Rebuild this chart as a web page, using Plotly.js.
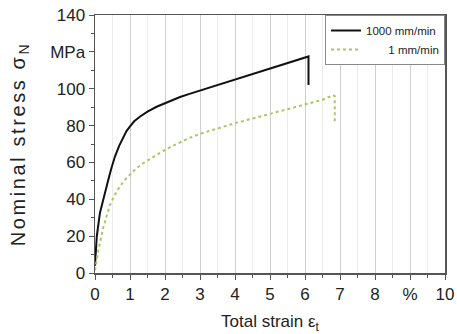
<!DOCTYPE html>
<html><head><meta charset="utf-8">
<script src="https://cdn.plot.ly/plotly-3.0.1.min.js"></script>
<style>html,body{margin:0;padding:0;background:#fff}#c{width:457px;height:334px}
.ytitle{letter-spacing:2.6px}</style>
</head><body><div id="c"></div>
<script>
const fastStrain = [0, 0.05, 0.14, 0.24, 0.38, 0.47, 0.57, 0.69, 0.81, 0.9, 1.0, 1.12, 1.29, 1.5, 1.76, 2.1, 2.43, 2.7, 3.0, 3.5, 4.0, 4.5, 5.0, 5.5, 6.1, 6.1];
const fastStress = [4, 19.8, 32.5, 40.5, 50.6, 57, 63.2, 69, 74, 77, 79.5, 82.3, 84.9, 87.6, 90.2, 93.1, 95.5, 97.2, 99, 101.9, 104.8, 107.8, 110.8, 113.8, 117.5, 102];
const slowStrain = [0, 0.1, 0.24, 0.43, 0.57, 0.71, 0.85, 1.0, 1.18, 1.38, 1.65, 1.95, 2.2, 2.43, 2.7, 3.0, 3.5, 4.0, 4.5, 5.0, 5.5, 6.0, 6.5, 6.8, 6.85, 6.85];
const slowStress = [1.5, 12.6, 25, 37, 42.5, 47, 50.5, 53.3, 56.8, 59.6, 63, 66.3, 68.8, 71, 73.3, 75.5, 78.5, 81.3, 83.8, 86.3, 88.8, 91.3, 94, 96.5, 96, 81];
const seriesNames = ["1000 mm/min", "\u00a0\u00a0\u00a0\u00a0\u00a0\u00a0\u00a01 mm/min"];
const xTickVals = [0,1,2,3,4,5,6,7,8,9,10];
const xTickText = ["0","1","2","3","4","5","6","7","8","%","10"];
const yTickVals = [0,20,40,60,80,100,120,140];
const yTickText = ["0","20","40","60","80","100","MPa","140"];

const fam = "Liberation Sans, Arial, sans-serif";
const data = [
  {x: fastStrain, y: fastStress, name: seriesNames[0], mode: "lines",
   line: {color: "#111", width: 2}},
  {x: slowStrain, y: slowStress, name: seriesNames[1], mode: "lines",
   line: {color: "#adc56a", width: 2, dash: "dot"}}
];
const layout = {
  width: 457, height: 334,
  margin: {l: 95, r: 12, t: 15, b: 61},
  paper_bgcolor: "#fff", plot_bgcolor: "#fff",
  font: {family: fam, size: 14, color: "#222"},
  showlegend: true,
  legend: {x: 1, y: 1, xanchor: "right", yanchor: "top", bgcolor: "#fff",
           bordercolor: "#888", borderwidth: 1, font: {family: fam, size: 11.5, color: "#222"},
           tracegroupgap: 0, itemwidth: 30},
  xaxis: {
    range: [0, 10], tickmode: "array", tickvals: xTickVals, ticktext: xTickText,
    ticks: "outside", ticklen: 5, tickcolor: "#555", showline: true, linecolor: "#555", linewidth: 1.5,
    mirror: true, showgrid: true, gridcolor: "#cfcfcf", gridwidth: 1, zeroline: false,
    minor: {tickmode: "linear", tick0: 0, dtick: 0.5, ticks: "outside", ticklen: 3, tickcolor: "#555",
            showgrid: true, gridcolor: "#ececec"},
    title: {text: "Total strain ε<sub>t</sub>", font: {family: fam, size: 17, color: "#222"}, standoff: 14},
    tickfont: {family: fam, size: 17, color: "#222"}
  },
  yaxis: {
    range: [0, 140], tickmode: "array", tickvals: yTickVals, ticktext: yTickText,
    ticks: "outside", ticklen: 5, tickcolor: "#555", showline: true, linecolor: "#555", linewidth: 1.5,
    mirror: true, showgrid: false, zeroline: false,
    minor: {tickmode: "linear", tick0: 0, dtick: 10, ticks: "outside", ticklen: 3, tickcolor: "#555", showgrid: false},
    title: {text: "Nominal stress σ<sub>N</sub>", font: {family: fam, size: 20, color: "#222"}, standoff: 19},
    tickfont: {family: fam, size: 17, color: "#222"}
  }
};
Plotly.newPlot("c", data, layout, {staticPlot: true, displayModeBar: false});
</script></body></html>
